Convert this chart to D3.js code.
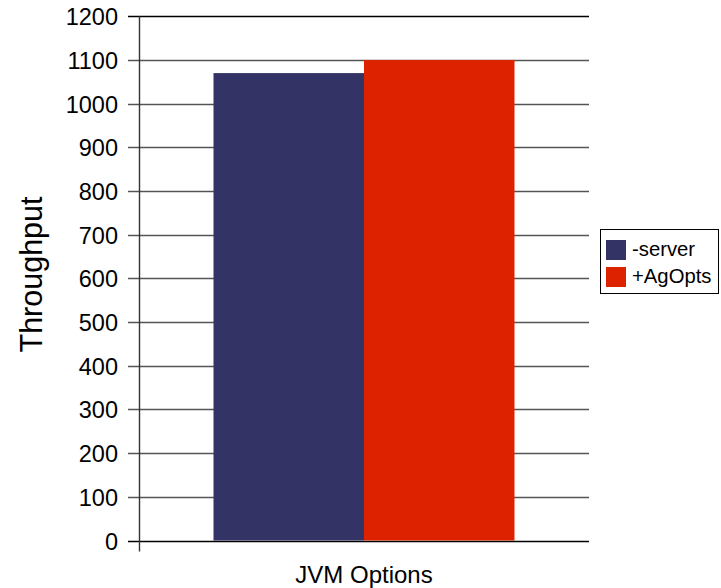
<!DOCTYPE html>
<html>
<head>
<meta charset="utf-8">
<script src="https://cdn.jsdelivr.net/npm/d3@7"></script>
<style>
  html, body { margin: 0; padding: 0; background: #fff; }
  svg { display: block; font-family: "Liberation Sans", Arial, sans-serif; }
</style>
</head>
<body>
<svg id="chart" width="721" height="588"></svg>
<script>
// Throughput for each JVM option setting
const category = "JVM Options";
const seriesNames = ["-server", "+AgOpts"];
const seriesValues = [1070, 1100];
const seriesColors = ["#333366", "#dd2200"];
const yTicks = [0, 100, 200, 300, 400, 500, 600, 700, 800, 900, 1000, 1100, 1200];

const svg = d3.select("#chart");
const plot = { left: 139, right: 589, top: 16.3, bottom: 540.5 };

const y = d3.scaleLinear().domain([0, 1200]).range([plot.bottom, plot.top]);
const xGroup = d3.scaleBand().domain([category]).range([plot.left, plot.right]).paddingInner(0).paddingOuter(0.2475);
const xSeries = d3.scaleBand().domain(seriesNames).range([xGroup(category), xGroup(category) + xGroup.bandwidth()]).padding(0);

// Horizontal grid lines with left tick stubs
svg.append("g")
  .selectAll("line")
  .data(yTicks)
  .join("line")
  .attr("x1", 128)
  .attr("x2", plot.right)
  .attr("y1", d => Math.round(y(d)) + 0.5)
  .attr("y2", d => Math.round(y(d)) + 0.5)
  .attr("stroke", d => (d === 0 || d === 1200) ? "#000" : "#555")
  .attr("stroke-width", 1.4);

// Bars
svg.append("g")
  .selectAll("rect")
  .data(seriesNames.map((s, i) => ({ s, v: seriesValues[i], c: seriesColors[i] })))
  .join("rect")
  .attr("x", d => xSeries(d.s))
  .attr("width", xSeries.bandwidth())
  .attr("y", d => y(d.v))
  .attr("height", d => y(0) - y(d.v))
  .attr("fill", d => d.c);

// Vertical axis line
svg.append("line")
  .attr("x1", plot.left + 0.5).attr("x2", plot.left + 0.5)
  .attr("y1", plot.top).attr("y2", 551.5)
  .attr("stroke", "#333").attr("stroke-width", 1.4);

// Y tick labels
svg.append("g")
  .selectAll("text")
  .data(yTicks)
  .join("text")
  .attr("x", 118)
  .attr("y", d => y(d) + 9)
  .attr("text-anchor", "end")
  .attr("font-size", 23.5)
  .attr("fill", "#000")
  .text(d => d);

// Axis titles
svg.append("text")
  .attr("transform", "translate(42,274.5) rotate(-90)")
  .attr("text-anchor", "middle")
  .attr("font-size", 30.5)
  .text("Throughput");

svg.append("text")
  .attr("x", xGroup(category) + xGroup.bandwidth() / 2)
  .attr("y", 583)
  .attr("text-anchor", "middle")
  .attr("font-size", 24)
  .text(category);

// Legend
const legend = svg.append("g");
legend.append("rect")
  .attr("x", 600.5).attr("y", 229.5)
  .attr("width", 118).attr("height", 64)
  .attr("fill", "#fff").attr("stroke", "#000").attr("stroke-width", 1);

seriesNames.forEach((s, i) => {
  legend.append("rect")
    .attr("x", 606).attr("y", 240 + i * 27)
    .attr("width", 20).attr("height", 20)
    .attr("fill", seriesColors[i]);
  legend.append("text")
    .attr("x", 632).attr("y", 255.5 + i * 27)
    .attr("font-size", 20.3)
    .text(s);
});
</script>
</body>
</html>
